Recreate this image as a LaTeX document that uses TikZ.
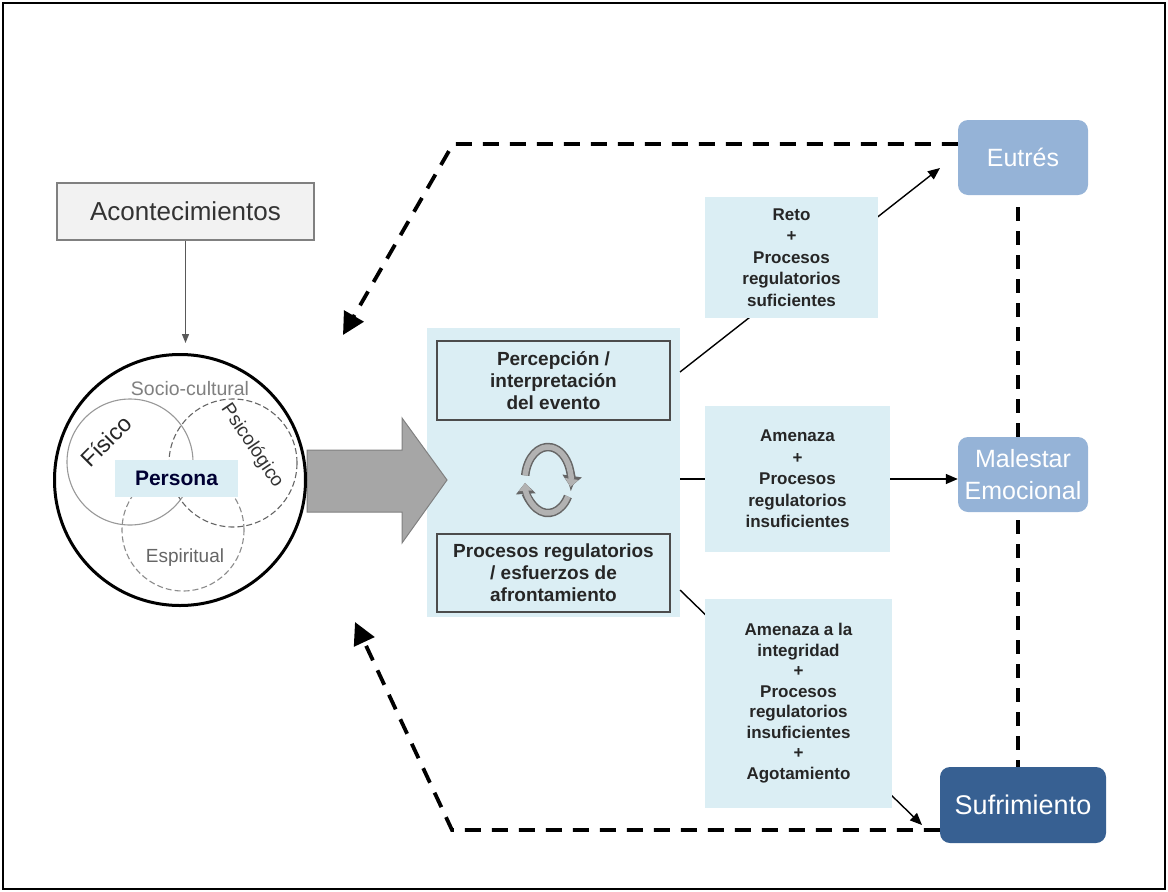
\documentclass[tikz,border=0pt]{standalone}
\usepackage{fontspec}
\setmainfont{Liberation Sans}
\usetikzlibrary{arrows.meta,calc}
\definecolor{paleblue}{HTML}{DBEEF4}
\definecolor{midblue}{HTML}{95B3D7}
\definecolor{deepblue}{HTML}{376092}
\definecolor{arrowgray}{HTML}{A6A6A6}
\definecolor{boxgray}{HTML}{F2F2F2}

\begin{document}
\begin{tikzpicture}[x=1pt,y=-1pt,
  condbox/.style={fill=paleblue, draw=none, align=center, inner sep=0pt,
    text=black!85, font=\bfseries\fontsize{17}{21.5}\selectfont},
  innerbox/.style={fill=paleblue, draw=black!70, line width=1.3pt, align=center,
    inner sep=0pt, minimum width=233pt, text=black!85,
    font=\bfseries\fontsize{19}{22}\selectfont},
  outcome/.style={rounded corners=10pt, draw=none, align=center, text=white, inner sep=0pt},
  link/.style={line width=1.4pt, -{Triangle[length=12pt,width=10pt]}},
  feedback/.style={line width=3.8pt, dash pattern=on 16pt off 11pt,
    -{Triangle[length=22pt,width=22pt]}},
  linkdash/.style={line width=3.8pt, dash pattern=on 14pt off 10pt},
  cycleedge/.style={line width=8.5pt, draw=black!60, -{Triangle[length=11pt,width=19pt]}},
  cyclebody/.style={line width=5.5pt, draw=black!30, -{Triangle[length=8pt,width=13pt]}}
]
\useasboundingbox (0,0) rectangle (1168,892);
\draw[line width=1.2pt] (3,3) rectangle (1165,889);

% central panel with its two stages
\node[fill=paleblue, minimum width=253pt, minimum height=289pt, inner sep=0pt] (panel) at (553.5,472.5) {};
\node[innerbox, minimum height=79pt] (pcp) at (553.5,380.5) {Percepción /\\interpretación\\del evento};
\node[innerbox, minimum height=78pt] (proc) at (553.5,573) {Procesos regulatorios\\/ esfuerzos de\\afrontamiento};

% cycle symbol between the stages
\coordinate (cyc) at (548,480);
\foreach \sty in {cycleedge,cyclebody}{
  \draw[\sty] ([shift={(172:23pt and 33pt)}]cyc) arc[start angle=172, end angle=-12, x radius=23pt, y radius=33pt];
  \draw[\sty] ([shift={(-30:23pt and 33pt)}]cyc) arc[start angle=-30, end angle=-175, x radius=23pt, y radius=33pt];
}

% outcomes
\node[outcome, fill=midblue, minimum width=130pt, minimum height=75pt,
  font=\fontsize{25}{30}\selectfont] (eutres) at (1023,157.5) {Eutrés};
\node[outcome, fill=midblue, minimum width=130pt, minimum height=75pt,
  font=\fontsize{25}{32}\selectfont] (malestar) at (1023,474.5) {Malestar\\Emocional};
\node[outcome, fill=deepblue, minimum width=166pt, minimum height=76pt,
  font=\fontsize{27}{32}\selectfont] (sufr) at (1023,805) {Sufrimiento};

% links from the panel to the outcomes
\coordinate (a1) at (680,372);
\coordinate (e1) at (940,168);
\coordinate (a3) at (680,590);
\coordinate (e3) at (922,825);
\draw[link] (a1) -- (e1);
\draw[link] (panel.east |- 0,479) -- (malestar.west |- 0,479);
\draw[link] (a3) -- (e3);

% conditions on the links
\node[condbox, minimum width=173pt, minimum height=121pt] (reto) at (791.5,257.5)
  {Reto\\+\\Procesos\\regulatorios\\suficientes};
\node[condbox, minimum width=185pt, minimum height=146pt] (amen) at (797.5,479)
  {Amenaza\\+\\Procesos\\regulatorios\\insuficientes};
\node[condbox, minimum width=187pt, minimum height=209pt, font=\bfseries\fontsize{17}{20.5}\selectfont] (amint) at (798.5,703)
  {Amenaza a la\\integridad\\+\\Procesos\\regulatorios\\insuficientes\\+\\Agotamiento};

% vertical continuum between outcomes
\draw[linkdash, shorten <=12pt] ([xshift=-5pt]eutres.south) -- ([xshift=-5pt]malestar.north);
\draw[linkdash, shorten <=8pt] ([xshift=-5pt]malestar.south) -- ([xshift=-5pt]sufr.north);

% feedback paths to the person
\coordinate (tc) at (453,144);
\coordinate (ta) at (343,335);
\coordinate (bc) at (452,830);
\coordinate (ba) at (355,622);
\draw[feedback] ([yshift=13.5pt]eutres.west) -- (tc) -- (ta);
\draw[feedback] ([yshift=-25pt]sufr.west) -- (bc) -- (ba);

% wide arrow from the person to the panel
\draw[fill=arrowgray, draw=black!50, line width=1pt]
  (307,450) -- (402,450) -- (402,418) -- (447,480) -- (402,543) -- (402,512) -- (307,512) -- cycle;

% the person and its dimensions
\node[circle, draw, line width=3pt, fill=white, minimum size=251pt, inner sep=0pt] (self) at (180,480) {};
\draw[black!40, line width=1.1pt] (130,462) circle[radius=63pt];
\draw[black!60, line width=1.1pt, dash pattern=on 6pt off 3pt] (233,463) circle[radius=64pt];
\draw[black!45, line width=1.1pt, dash pattern=on 6pt off 3pt] (183,530) circle[radius=61pt];
\node[fill=paleblue, minimum width=123pt, minimum height=37pt, inner sep=0pt,
  text=black!80!blue, font=\bfseries\fontsize{21}{21}\selectfont] (persona) at (176.5,478.5) {Persona};
\node[text=black!50, font=\fontsize{19.5}{19.5}\selectfont] (soc) at (190,389) {Socio-cultural};
\node[rotate=45, text=black!85, font=\fontsize{23}{23}\selectfont, inner sep=0pt] (fis) at (106,441) {Físico};
\node[rotate=-56, text=black!80, font=\fontsize{19}{19}\selectfont, inner sep=0pt] (psi) at (252,446) {Psicológico};
\node[text=black!60, font=\fontsize{19}{19}\selectfont] (esp) at (185,558) {Espiritual};

% events acting on the person
\node[fill=boxgray, draw=black!50, line width=1.4pt, minimum width=257pt, minimum height=57pt,
  inner sep=0pt, text=black!80, font=\fontsize{26}{30}\selectfont] (acon) at (185.5,211.5) {Acontecimientos};
\draw[line width=1.2pt, draw=black!65, -{Triangle[length=9pt,width=7pt]}, shorten >=10pt]
  (acon.south) -- (acon.south |- self.north);
\end{tikzpicture}
\end{document}
